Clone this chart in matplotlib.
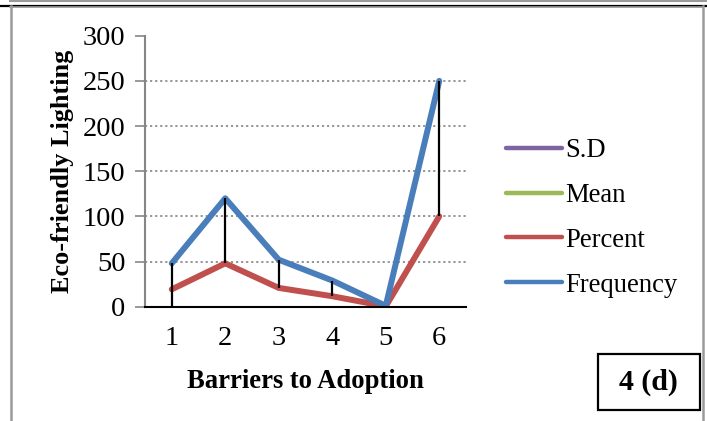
import numpy as np
import matplotlib
matplotlib.use("Agg")
import matplotlib.pyplot as plt
from matplotlib.lines import Line2D
from matplotlib.patches import Rectangle

plt.rcParams['font.family'] = ['Liberation Serif', 'DejaVu Serif']

# Barrier categories and series values
categories = ["1", "2", "3", "4", "5", "6"]
frequency = [48, 120, 52, 29, 1, 250]
percent = [19.2, 48.0, 20.8, 11.6, 0.4, 100.0]
mean = [2.6, np.nan, np.nan, np.nan, np.nan, np.nan]
sd = [1.3, np.nan, np.nan, np.nan, np.nan, np.nan]
y_ticks = [0, 50, 100, 150, 200, 250, 300]

colors = {
    "S.D": "#8064A2",
    "Mean": "#9BBB59",
    "Percent": "#C0504D",
    "Frequency": "#4A7EBB",
}

W, H = 707, 421
fig = plt.figure(figsize=(W / 100, H / 100), dpi=100)
fig.patch.set_facecolor("white")

ax = fig.add_axes([145 / W, 1 - 306.7 / H, (466 - 145) / W, (306.7 - 35.7) / H])

x = np.arange(1, len(categories) + 1)
series = [("S.D", sd), ("Mean", mean), ("Percent", percent), ("Frequency", frequency)]
handles = []
for name, vals in series:
    ax.plot(x, vals, color=colors[name], lw=4.3, solid_capstyle="round",
            solid_joinstyle="round", zorder=3)
    handles.append(Line2D([], [], color=colors[name], lw=3.2, solid_capstyle="round"))

# high-low lines across all series
stack = np.array([v for _, v in series], dtype=float)
lo = np.nanmin(stack, axis=0)
hi = np.nanmax(stack, axis=0)
ax.vlines(x, lo, hi, color="black", lw=1.6, zorder=4)

ax.set_xlim(0.5, len(categories) + 0.5)
ax.set_ylim(0, 300)
ax.set_yticks(y_ticks)
ax.set_yticklabels([str(t) for t in y_ticks])
ax.set_xticks(x)
ax.set_xticklabels(categories)
ax.tick_params(axis="y", direction="out", length=7, width=1.2, color="#868686",
               labelsize=20.5, pad=7)
ax.tick_params(axis="x", length=0, labelsize=20.5, pad=14)

for yv in y_ticks[1:-1]:
    ax.axhline(yv, color="#8C8C8C", lw=1.3, ls=(0, (1.2, 1.6)), zorder=1)

for s in ["top", "right"]:
    ax.spines[s].set_visible(False)
ax.spines["left"].set_color("#868686")
ax.spines["left"].set_linewidth(1.5)
ax.spines["bottom"].set_color("black")
ax.spines["bottom"].set_linewidth(1.5)
ax.spines["bottom"].set_zorder(5)

ax.set_ylabel("Eco-friendly Lighting", fontsize=18.9, fontweight="bold", labelpad=6)
ax.set_xlabel("Barriers to Adoption", fontsize=19.2, fontweight="bold", labelpad=13)

fig.legend(handles, [n for n, _ in series], loc="upper left",
           bbox_to_anchor=(493 / W, 1 - 125 / H), frameon=False, fontsize=19.2,
           handlelength=2.1, handletextpad=0.12, labelspacing=0.74, borderpad=0)

# page borders around the figure
def fline(x0, y0, x1, y1, color, lw):
    fig.add_artist(Line2D([x0 / W, x1 / W], [1 - y0 / H, 1 - y1 / H],
                          transform=fig.transFigure, color=color, lw=lw))

fline(10, 1, W, 1, "#9A9A9A", 1.5)
fline(0, 5.5, W, 5.5, "black", 1.6)
fline(10, 7, W - 5, 7, "#9A9A9A", 1.2)
fline(10.5, 6, 10.5, H, "#9A9A9A", 1.8)
fline(703, 6, 703, H, "#9A9A9A", 1.8)

# panel tag box
fig.add_artist(Rectangle((598 / W, 1 - 410 / H), (700 - 598) / W, (410 - 354) / H,
                         transform=fig.transFigure, fill=False, ec="black", lw=1.6))
fig.text(648 / W, 1 - 382 / H, "4 (d)", ha="center", va="center",
         fontsize=21.5, fontweight="bold")

fig.savefig("out.png", dpi=100)
